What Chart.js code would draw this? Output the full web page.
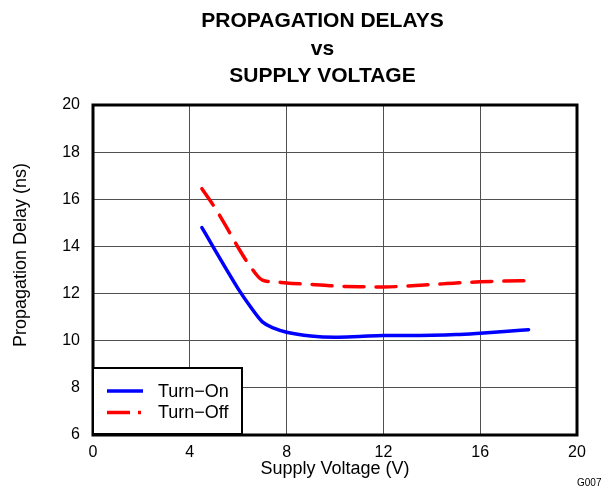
<!DOCTYPE html>
<html>
<head>
<meta charset="utf-8">
<script src="https://cdn.jsdelivr.net/npm/chart.js@4"></script>
<style>
  html, body { margin: 0; padding: 0; background: #fff; }
  #wrap { width: 609px; height: 487px; position: relative; }
</style>
</head>
<body>
<div id="wrap"><canvas id="delays"></canvas></div>
<script>
// values
const supplyVoltage = [4.5, 5, 5.5, 6, 6.5, 7, 7.5, 8, 9, 10, 11, 12, 13, 14, 15, 16, 17, 18]
const turnOnDelay = [14.8, 13.92, 13.05, 12.2, 11.45, 10.8, 10.52, 10.36, 10.2, 10.15, 10.18, 10.22, 10.22, 10.23, 10.26, 10.32, 10.39, 10.47]
const turnOffDelay = [16.45, 15.7, 14.85, 13.95, 13.15, 12.57, 12.5, 12.45, 12.39, 12.32, 12.29, 12.28, 12.32, 12.38, 12.45, 12.5, 12.53, 12.55]
const titleLines = ['PROPAGATION DELAYS', 'vs', 'SUPPLY VOLTAGE']
const xTitle = 'Supply Voltage (V)'
const yTitle = 'Propagation Delay (ns)'
const seriesNames = ['Turn\u2212On', 'Turn\u2212Off']
const figureId = 'G007'

const FONT = "'Liberation Sans', Arial, Helvetica, sans-serif"

const toPoints = ys => supplyVoltage.map((x, i) => ({ x, y: ys[i] }))

// title, y-axis title, frame, boxed legend and figure id
const decorations = {
  id: 'decorations',
  afterDatasetsDraw(chart) {
    const { ctx, chartArea: a } = chart
    ctx.save()

    // frame
    ctx.strokeStyle = '#000'
    ctx.lineWidth = 3
    ctx.strokeRect(a.left, a.top, a.right - a.left, a.bottom - a.top)

    // legend box
    const bx = 93, by = 368, bw = 149, bh = 66
    ctx.fillStyle = '#fff'
    ctx.fillRect(bx, by, bw, bh)
    ctx.lineWidth = 2
    ctx.strokeRect(bx, by, bw, bh)
    ctx.font = '18px ' + FONT
    ctx.textBaseline = 'middle'
    ctx.textAlign = 'left'
    chart.data.datasets.forEach((ds, i) => {
      const y = 391 + i * 21.5
      ctx.beginPath()
      ctx.strokeStyle = ds.borderColor
      ctx.lineWidth = 3.5
      ctx.setLineDash(i === 0 ? [] : [23, 8, 3, 8])
      ctx.moveTo(107, y)
      ctx.lineTo(143, y)
      ctx.stroke()
      ctx.setLineDash([])
      ctx.fillStyle = '#000'
      ctx.fillText(ds.label, 158, y + 1)
    })

    // main title
    ctx.fillStyle = '#000'
    ctx.textAlign = 'center'
    ctx.textBaseline = 'alphabetic'
    ctx.font = 'bold 21px ' + FONT
    const baselines = [27, 55, 82]
    titleLines.forEach((t, i) => ctx.fillText(t, 322.5, baselines[i]))

    // y-axis title
    ctx.font = '18px ' + FONT
    ctx.translate(21, 255)
    ctx.rotate(-Math.PI / 2)
    ctx.textBaseline = 'middle'
    ctx.fillText(yTitle, 0, 0)
    ctx.setTransform(1, 0, 0, 1, 0, 0)

    // figure id
    ctx.font = '10px ' + FONT
    ctx.textAlign = 'left'
    ctx.textBaseline = 'alphabetic'
    ctx.fillText(figureId, 577, 486)
    ctx.restore()
  }
}

const ctx = document.getElementById('delays').getContext('2d')

new Chart(ctx, {
  type: 'line',
  data: {
    datasets: [
      {
        label: seriesNames[0],
        data: toPoints(turnOnDelay),
        borderColor: '#0000ff',
        backgroundColor: '#0000ff',
        borderWidth: 3.5,
        pointRadius: 0,
        cubicInterpolationMode: 'monotone',
        borderCapStyle: 'round',
        fill: false
      },
      {
        label: seriesNames[1],
        data: toPoints(turnOffDelay),
        borderColor: '#ff0000',
        backgroundColor: '#ff0000',
        borderWidth: 3.5,
        borderDash: [20, 12],
        pointRadius: 0,
        cubicInterpolationMode: 'monotone',
        borderCapStyle: 'round',
        fill: false
      }
    ]
  },
  options: {
    responsive: true,
    maintainAspectRatio: false,
    animation: false,
    layout: {
      padding: { top: 105, right: 32, bottom: 0, left: 0 }
    },
    scales: {
      x: {
        type: 'linear',
        min: 0,
        max: 20,
        afterFit: scale => { scale.height = 52 },
        border: { display: false },
        grid: { color: '#505050', lineWidth: 1, drawTicks: false },
        ticks: {
          stepSize: 4,
          padding: 8,
          color: '#000',
          font: { family: FONT, size: 16 }
        },
        title: {
          display: true,
          text: xTitle,
          color: '#000',
          padding: { top: 0, bottom: 7 },
          font: { family: FONT, size: 18 }
        }
      },
      y: {
        min: 6,
        max: 20,
        afterFit: scale => { scale.width = 93 },
        border: { display: false },
        grid: { color: '#505050', lineWidth: 1, drawTicks: false },
        ticks: {
          stepSize: 2,
          padding: 13,
          color: '#000',
          font: { family: FONT, size: 16 }
        }
      }
    },
    plugins: {
      legend: { display: false },
      title: { display: false },
      tooltip: { enabled: false }
    }
  },
  plugins: [decorations]
})
</script>
</body>
</html>
